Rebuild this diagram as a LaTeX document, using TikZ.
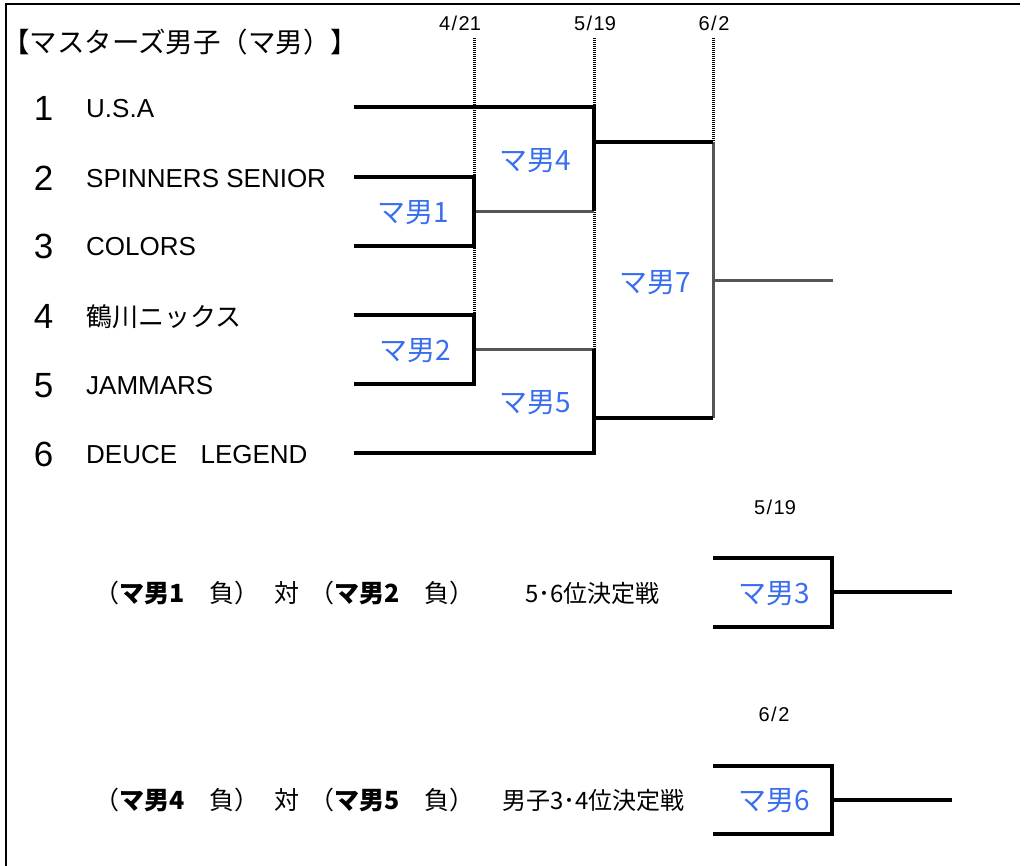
\documentclass[tikz,border=0pt]{standalone}
\usepackage{fontspec}
\setmainfont{Liberation Sans}
\newfontfamily\jp{Noto Sans CJK JP}
\definecolor{mblue}{RGB}{58,110,240}
\definecolor{mgray}{RGB}{85,85,85}
\begin{document}
\begin{tikzpicture}[x=1pt,y=-1pt,
  wline/.style={line width=3.4pt, black},
  gline/.style={line width=3pt, mgray},
  dline/.style={line width=3pt, black, dash pattern=on 1pt off 1pt},
  frameline/.style={line width=2pt, black},
  num/.style={anchor=base, inner sep=0, font=\fontsize{35}{35}\selectfont},
  team/.style={anchor=base west, inner sep=0, font=\fontsize{26}{26}\selectfont},
  datelbl/.style={anchor=base, inner sep=0, font=\fontsize{20}{20}\selectfont},
  mlbl/.style={anchor=base, inner sep=0, text=mblue, font=\jp\fontsize{28}{28}\selectfont},
  vslbl/.style={anchor=base west, inner sep=0, font=\jp\fontsize{25}{25}\selectfont},
  ranklbl/.style={anchor=base west, inner sep=0, font=\jp\fontsize{24}{24}\selectfont},
  titlelbl/.style={anchor=base west, inner sep=0, font=\jp\fontsize{27.5}{27.5}\selectfont}
]
\useasboundingbox (0,0) rectangle (1024,865);
% frame
\coordinate (fr1) at (1020,4);
\coordinate (fr2) at (6,4);
\coordinate (fr3) at (6,866);
\draw[frameline] (fr1) -- (fr2) -- (fr3);

% bracket coordinates
\coordinate (t1) at (354,107);
\coordinate (t2) at (354,177);
\coordinate (t3) at (354,246);
\coordinate (t4) at (354,315);
\coordinate (t5) at (354,384);
\coordinate (t6) at (354,453);
\coordinate (m1a) at (474,177);
\coordinate (m1b) at (474,246);
\coordinate (m1o) at (474,211);
\coordinate (m2a) at (474,315);
\coordinate (m2b) at (474,384);
\coordinate (m2o) at (474,349);
\coordinate (m4a) at (594,107);
\coordinate (m4b) at (594,211);
\coordinate (m4o) at (594,142);
\coordinate (m5a) at (594,349);
\coordinate (m5b) at (594,453);
\coordinate (m5o) at (594,418);
\coordinate (m7a) at (713,142);
\coordinate (m7b) at (713,418);
\coordinate (m7o) at (713,280);
\coordinate (fin) at (833,280);
\coordinate (d1) at (474,38);
\coordinate (d2) at (594,38);
\coordinate (d3) at (713,38);

% dotted date guides
\draw[dline] (d1) -- (m2a);
\draw[dline] (d2) -- (m5a);
\draw[dline] (d3) -- (m7a);

% gray lines
\draw[gline] (m1o) -- (m4b);
\draw[gline] (m2o) -- (m5a);
\draw[gline] (m7a) -- (m7b);
\draw[gline] (m7o) -- (fin);

% black lines
\draw[wline] (t1) -- (m4a) -- (m4b);
\draw[wline] (t2) -- (m1a) -- (m1b) -- (t3);
\draw[wline] (t4) -- (m2a) -- (m2b) -- (t5);
\draw[wline] (t6) -- (m5b) -- (m5a);
\draw[wline] (m4o) -- (m7a);
\draw[wline] (m5o) -- (m7b);

% title and dates
\node[titlelbl] (title) at (2,52) {【マスターズ男子（マ男）】};
\node[datelbl] (date1) at (460,30) {4\kern1.5pt/\kern1.5pt21};
\node[datelbl] (date2) at (595,30) {5\kern1.5pt/\kern1.5pt19};
\node[datelbl] (date3) at (714,30) {6\kern1.5pt/\kern1.5pt2};

% seeds and teams
\node[num] (n1) at (43.5,120.5) {1};
\node[num] (n2) at (43.5,190.5) {2};
\node[num] (n3) at (43.5,258.5) {3};
\node[num] (n4) at (43.5,328.5) {4};
\node[num] (n5) at (43.5,397.5) {5};
\node[num] (n6) at (43.5,466.5) {6};
\node[team] (tm1) at (86,117) {U.S.A};
\node[team] (tm2) at (86,187) {SPINNERS SENIOR};
\node[team] (tm3) at (86,255) {COLORS};
\node[team] (tm4) at (86,326) {\jp 鶴川ニックス};
\node[team] (tm5) at (86,394) {JAMMARS};
\node[team] (tm6) at (86,463) {DEUCE\hspace{0.9em}LEGEND};

% match labels
\node[mlbl] (l1) at (413,222) {マ男1};
\node[mlbl] (l4) at (535,170) {マ男4};
\node[mlbl] (l2) at (415,360) {マ男2};
\node[mlbl] (l5) at (535,412) {マ男5};
\node[mlbl] (l7) at (655,292) {マ男7};

% placement matches
\coordinate (c3t) at (713,558);
\coordinate (c3b) at (713,627);
\coordinate (c3o) at (832,592);
\coordinate (c3e) at (952,592);
\draw[wline] (c3t) -| (c3o) |- (c3b);
\draw[wline] (c3o) -- (c3e);
\node[mlbl] (l3) at (774,603) {マ男3};
\node[datelbl] (date4) at (775,514) {5\kern1.5pt/\kern1.5pt19};
\node[vslbl] (vs1) at (94,602.5) {（\textbf{マ男1}　負）\hspace{0.6em}対\hspace{0.4em}（\textbf{マ男2}　負）};
\node[ranklbl] (r1) at (525,602) {5･6位決定戦};

\coordinate (c6t) at (713,766);
\coordinate (c6b) at (713,834);
\coordinate (c6o) at (832,800);
\coordinate (c6e) at (952,800);
\draw[wline] (c6t) -| (c6o) |- (c6b);
\draw[wline] (c6o) -- (c6e);
\node[mlbl] (l6) at (774,810) {マ男6};
\node[datelbl] (date5) at (774,721) {6\kern1.5pt/\kern1.5pt2};
\node[vslbl] (vs2) at (94,809.5) {（\textbf{マ男4}　負）\hspace{0.6em}対\hspace{0.4em}（\textbf{マ男5}　負）};
\node[ranklbl] (r2) at (502,809) {男子3･4位決定戦};
\end{tikzpicture}
\end{document}
